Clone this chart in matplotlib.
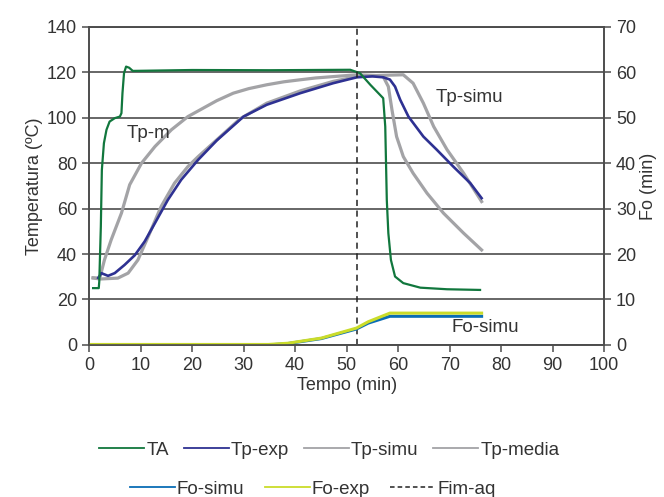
import matplotlib

matplotlib.use("Agg")
import matplotlib.pyplot as plt
from matplotlib.lines import Line2D

plt.rcParams["font.family"] = ["Liberation Sans", "DejaVu Sans"]
plt.rcParams["font.size"] = 13
TXT = "#333333"

# TA (ambient / autoclave temperature)
ta_t = [0.8, 1.9, 2.0, 2.3, 2.5, 2.9, 3.4, 4.0, 5.0, 6.0, 6.3, 6.5, 6.8, 7.2, 7.8, 8.5, 20, 35,
        50.7, 52.6, 54.6, 57.1, 57.5, 57.8, 58.1, 58.6, 59.4, 61.0, 64.3, 69.5, 75.9]
ta = [25, 25, 28, 52, 77, 88.8, 94.7, 98.3, 99.8, 100.5, 102, 110.8, 119.6, 122.5, 122, 120.6,
      121.0, 120.9, 121.1, 119.6, 114.5, 108.6, 96.1, 63.8, 49.2, 37.4, 30.1, 27.2, 25.2, 24.5,
      24.2]

# Tp-exp
exp_t = [1.8, 2.4, 3.7, 5.0, 6.9, 8.9, 10.8, 12.8, 15.3, 17.9, 21.2, 24.8, 30, 34.5, 41, 47.4,
         52, 55, 57.1, 58.4, 59.4, 60.4, 62, 64.9, 67.5, 70.7, 74, 76.2]
exp_v = [29.5, 31.6, 30.4, 31.6, 35.2, 39.5, 45.5, 53.6, 63.8, 72.7, 81.5, 90, 100.5, 105.7,
         110.8, 115.2, 117.8, 118.2, 117.8, 116.8, 113.7, 107.9, 100.5, 91.7, 85.9, 78.5, 71.2,
         64.6]

# Tp-simu
simu_t = [0.8, 2.1, 5.6, 7.6, 9.5, 11.5, 14.0, 16.6, 19.2, 21.2, 25.4, 29.3, 34.5, 41, 47.4,
          52, 56, 61.0, 62.9, 64.9, 66.9, 69.5, 72.7, 76.2]
simu_v = [29.5, 29.0, 29.4, 31.6, 37.4, 47.7, 60.9, 71.2, 78.5, 82.9, 91.5, 99.5, 106.4, 111.8,
          116, 118.1, 118.6, 118.9, 115.2, 106.4, 96.1, 85.9, 75.6, 63.1]

# Tp-media
media_t = [0.8, 2.1, 3.0, 4.3, 6.3, 7.9, 10.2, 12.8, 16.0, 19.2, 21.6, 24.8, 28, 31, 34.5,
           37.8, 41, 44, 47.4, 52, 55.5, 57.1, 58.1, 58.8, 59.7, 61.0, 62.9, 65.6, 68.8, 72.7,
           76.2]
media_v = [29.5, 29.4, 37.4, 46.2, 58, 70.5, 80, 87.3, 94.7, 100.5, 103.5, 107.5, 110.8, 112.8,
           114.5, 115.8, 116.7, 117.5, 118.1, 118.9, 118.6, 118.1, 113.7, 103.5, 91.7, 82.9,
           75.6, 66.8, 58, 49.2, 41.8]

# Fo curves (right axis)
fo_t = [0, 34.8, 38.6, 45.1, 51.9, 54.2, 58.4, 76.2]
fo_exp = [0.1, 0.1, 0.37, 1.5, 3.7, 5.1, 7.0, 7.0]
fo_simu = [0.0, 0.0, 0.3, 1.4, 3.5, 4.8, 6.3, 6.3]

fim_aq = 52

c_ta = "#11773d"
c_exp = "#2e3192"
c_gray = "#a3a3a6"
c_fosimu = "#0a6db5"
c_foexp = "#cadc2a"

fig = plt.figure(figsize=(6.64, 4.97), dpi=100)
ax = fig.add_axes([0.134, 0.306, 0.776, 0.640])
ax2 = ax.twinx()

ax.plot(media_t, media_v, color=c_gray, lw=2.3)
ax.plot(simu_t, simu_v, color=c_gray, lw=2.3)
ax.plot(exp_t, exp_v, color=c_exp, lw=1.9)
ax.plot(ta_t, ta, color=c_ta, lw=1.6)
ax.axvline(fim_aq, color="#222222", lw=1.1, ls=(0, (4, 3)))

ax2.plot(fo_t, fo_simu, color=c_fosimu, lw=2.2)
ax2.plot(fo_t, fo_exp, color=c_foexp, lw=2.2)

ax.set_xlim(0, 100)
ax.set_ylim(0, 140)
ax2.set_ylim(0, 70)
ax.set_xticks(range(0, 101, 10))
ax.set_yticks(range(0, 141, 20))
ax2.set_yticks(range(0, 71, 10))
ax.yaxis.grid(True, color="#4d4d4d", lw=1.2)
ax.set_axisbelow(True)

for a in (ax, ax2):
    for s in a.spines.values():
        s.set_color("#4d4d4d")
        s.set_linewidth(1.2)
    a.tick_params(direction="out", length=5, width=1.1, color="#4d4d4d", labelcolor=TXT,
                  labelsize=13)

ax.set_xlabel("Tempo (min)", color=TXT, fontsize=13, labelpad=2)
ax.set_ylabel("Temperatura (ºC)", color=TXT, fontsize=13, labelpad=3)
ax2.set_ylabel("Fo (min)", color=TXT, fontsize=13, labelpad=3)

ax.text(11.5, 93, "Tp-m", color=TXT, fontsize=13.5, ha="center", va="center")
ax.text(73.8, 109, "Tp-simu", color=TXT, fontsize=13.5, ha="center", va="center")
ax.text(76.9, 7.5, "Fo-simu", color=TXT, fontsize=13.5, ha="center", va="center")

row1 = [Line2D([], [], color=c_ta, lw=1.3), Line2D([], [], color=c_exp, lw=1.3),
        Line2D([], [], color=c_gray, lw=1.3), Line2D([], [], color=c_gray, lw=1.3)]
row2 = [Line2D([], [], color=c_fosimu, lw=1.3), Line2D([], [], color=c_foexp, lw=1.3),
        Line2D([], [], color="#222222", lw=1.1, ls=(0, (3, 2)))]
leg_kw = dict(frameon=False, handlelength=2.4, handletextpad=0.1,
              fontsize=13.5, labelcolor=TXT, loc="center")
fig.legend(row1, ["TA", "Tp-exp", "Tp-simu", "Tp-media"], ncol=4, columnspacing=0.8,
           bbox_to_anchor=(0.496, 1 - 450 / 497), **leg_kw)
fig.legend(row2, ["Fo-simu", "Fo-exp", "Fim-aq"], ncol=3, columnspacing=1.1,
           bbox_to_anchor=(0.471, 1 - 489 / 497), **leg_kw)

fig.savefig("out.png", dpi=100)
